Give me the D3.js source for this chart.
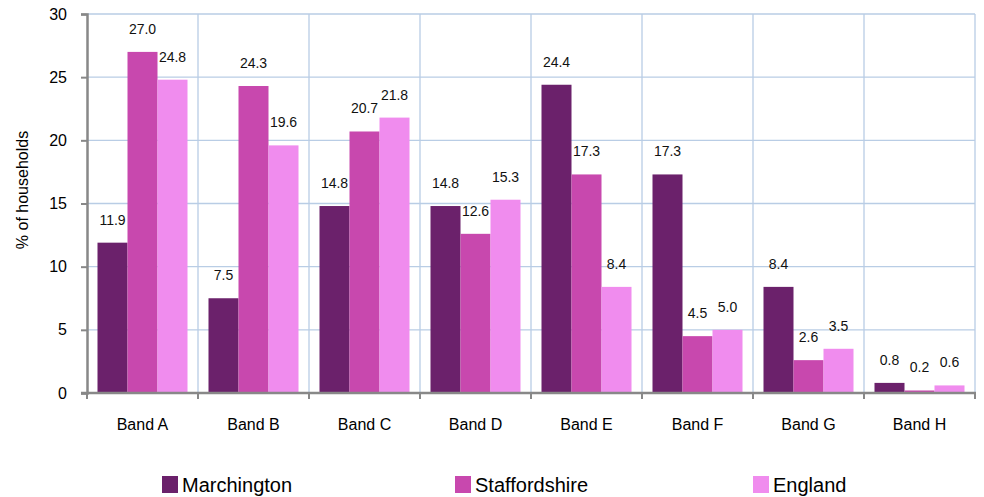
<!DOCTYPE html>
<html><head><meta charset="utf-8">
<script src="https://cdn.jsdelivr.net/npm/d3@7"></script>
<style>body{margin:0;background:#fff}svg{display:block;font-family:"Liberation Sans",Arial,sans-serif}</style>
</head><body><svg id="c" width="984" height="497"></svg>
<script>
const categories = ["Band A","Band B","Band C","Band D","Band E","Band F","Band G","Band H"];
const seriesNames = ["Marchington","Staffordshire","England"];
const marchington = [11.9,7.5,14.8,14.8,24.4,17.3,8.4,0.8];
const staffordshire = [27.0,24.3,20.7,12.6,17.3,4.5,2.6,0.2];
const england = [24.8,19.6,21.8,15.3,8.4,5.0,3.5,0.6];
const yTicks = [0,5,10,15,20,25,30];
const colors = ["#6B216B","#C848AE","#F08CEE"];
const seriesValues = [marchington, staffordshire, england];

const svg = d3.select("#c");
const m = {l:87, r:975, t:14, b:393};
const x = d3.scaleBand().domain(categories).range([m.l, m.r]).paddingInner(0).paddingOuter(0);
const x1 = d3.scaleBand().domain(seriesNames).range([0, x.bandwidth()]).paddingInner(0).paddingOuter(0.35);
const y = d3.scaleLinear().domain([0,30]).range([m.b, m.t]);

// grid
const g = svg.append("g");
g.selectAll("line.h").data(yTicks.filter(d=>d>0)).join("line")
  .attr("x1", m.l).attr("x2", m.r).attr("y1", d=>y(d)).attr("y2", d=>y(d))
  .attr("stroke", "#B9CDE5").attr("stroke-width", 1.3);
g.selectAll("line.v").data(categories.slice(1).concat(["end"])).join("line")
  .attr("x1", (d,i)=> i<categories.length-1 ? x(d) : m.r)
  .attr("x2", (d,i)=> i<categories.length-1 ? x(d) : m.r)
  .attr("y1", m.t).attr("y2", m.b)
  .attr("stroke", "#B9CDE5").attr("stroke-width", 1.3);

// bars
seriesNames.forEach((s, si) => {
  const vals = seriesValues[si];
  svg.append("g").selectAll("rect").data(vals).join("rect")
    .attr("x", (d,i)=> x(categories[i]) + x1(s))
    .attr("width", x1.bandwidth())
    .attr("y", d=>y(d)).attr("height", d=> y(0)-y(d))
    .attr("fill", colors[si]);
  svg.append("g").selectAll("text").data(vals).join("text")
    .attr("x", (d,i)=> x(categories[i]) + x1(s) + x1.bandwidth()/2)
    .attr("y", d=> y(d) - 18)
    .attr("text-anchor","middle").attr("font-size", 14).attr("fill","#111")
    .text(d=> d.toFixed(1));
});

// y axis
const yAxis = d3.axisLeft(y).tickValues(yTicks).tickSize(6).tickPadding(14);
const ya = svg.append("g").attr("transform", `translate(${m.l},0)`).call(yAxis);
ya.select(".domain").attr("stroke","#888").attr("stroke-width",2.5);
ya.selectAll(".tick line").attr("stroke","#888").attr("stroke-width",2);
ya.selectAll(".tick text").attr("font-size",16).attr("fill","#000").attr("font-family","Liberation Sans, Arial, sans-serif");

// x axis
const xa = svg.append("g").attr("transform", `translate(0,${m.b})`);
xa.append("line").attr("x1", m.l-6).attr("x2", m.r+1).attr("y1",0).attr("y2",0).attr("stroke","#888").attr("stroke-width",2.5);
xa.selectAll("line.t").data(categories).join("line")
  .attr("x1", d=> x(d)+x.bandwidth()).attr("x2", d=> x(d)+x.bandwidth())
  .attr("y1",0).attr("y2",6).attr("stroke","#888").attr("stroke-width",2);
xa.append("line").attr("x1", m.l).attr("x2", m.l).attr("y1",0).attr("y2",6).attr("stroke","#888").attr("stroke-width",2);
xa.selectAll("text").data(categories).join("text")
  .attr("x", d=> x(d)+x.bandwidth()/2).attr("y", 37)
  .attr("text-anchor","middle").attr("font-size",16).attr("fill","#000").text(d=>d);

// y title
svg.append("text").attr("transform","translate(28,190) rotate(-90)")
  .attr("text-anchor","middle").attr("font-size",16).attr("fill","#000").text("% of households");

// legend
const legX = [162, 455, 753];
seriesNames.forEach((s, i) => {
  svg.append("rect").attr("x", legX[i]).attr("y", 476).attr("width", 16).attr("height", 17).attr("fill", colors[i]);
  svg.append("text").attr("x", legX[i]+20).attr("y", 492).attr("font-size", 20).attr("fill","#000").text(s);
});
</script></body></html>
